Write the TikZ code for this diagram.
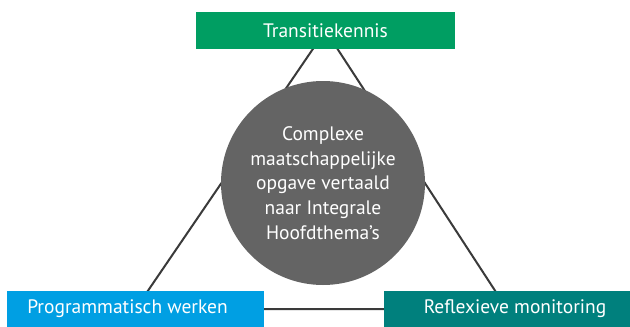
\documentclass[tikz,border=0pt]{standalone}
\usepackage{fontspec}
\setmainfont{PT Sans}
\usetikzlibrary{backgrounds}
\definecolor{tgreen}{HTML}{009E62}
\definecolor{tblue}{HTML}{009FE3}
\definecolor{tteal}{HTML}{00807D}
\definecolor{cgray}{HTML}{646464}
\definecolor{lgray}{HTML}{3A3A3A}
\tikzset{
  labelbox/.style={rectangle, inner sep=0pt, text=white, font=\fontsize{19.5}{23}\selectfont},
  connector/.style={draw=lgray, line width=2pt}
}
\begin{document}
\begin{tikzpicture}[x=1pt,y=1pt]
\useasboundingbox (0,0) rectangle (630,-327);
\node[labelbox, fill=tgreen, minimum width=259pt, minimum height=37pt] (t) at (325.5,-30.5) {Transitiekennis};
\node[labelbox, fill=tblue, minimum width=257pt, minimum height=36pt] (l) at (135.5,-309) {\hspace*{-16pt}Programmatisch werken};
\node[labelbox, fill=tteal, minimum width=246pt, minimum height=36pt] (r) at (507,-309) {\hspace*{16pt}Reflexieve monitoring};
\node[circle, fill=cgray, minimum size=204pt, inner sep=0pt, text=white, align=center,
  font=\fontsize{19.5}{24.7}\selectfont] (c) at (323,-183) {Complexe\\maatschappelijke\\opgave vertaald\\naar Integrale\\Hoofdthema’s};
\begin{scope}[on background layer]
\fill[white] (0,0) rectangle (630,-327);
\draw[connector] (t.center) -- (l.center) -- (r.center) -- cycle;
\end{scope}
\end{tikzpicture}
\end{document}
